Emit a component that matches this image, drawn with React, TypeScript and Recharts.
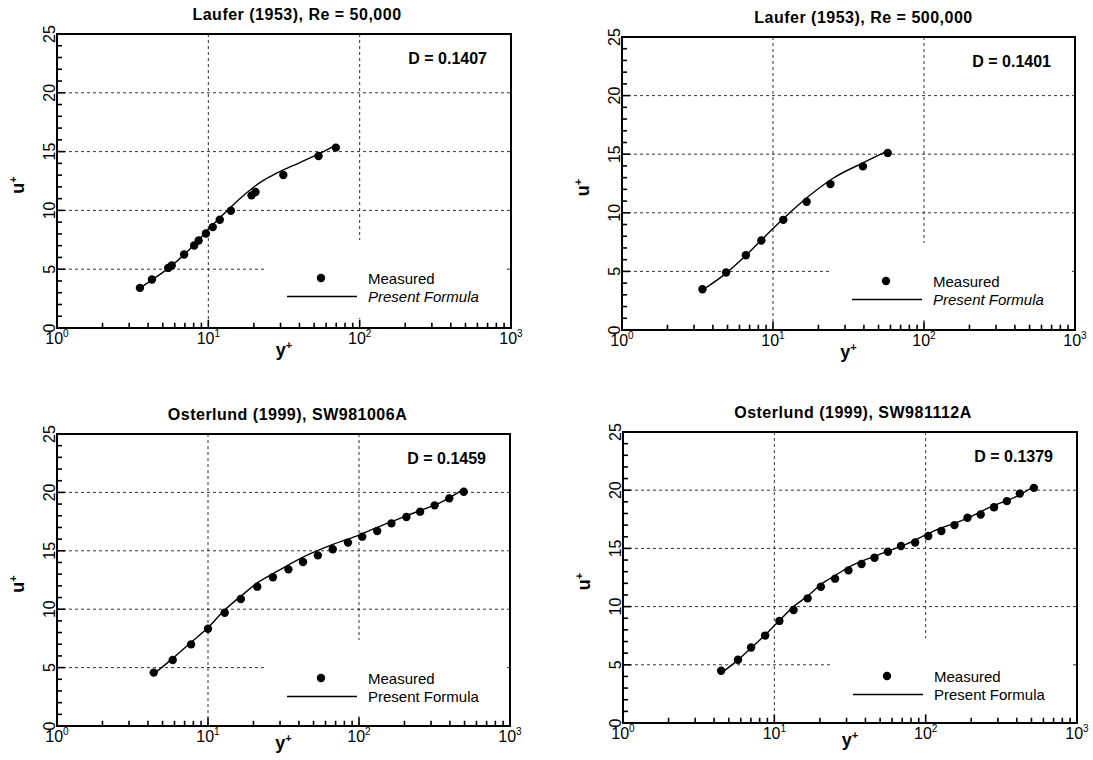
import React from 'react';
import { ComposedChart, Line, Scatter, XAxis, YAxis, CartesianGrid, Legend, ReferenceLine } from 'recharts';

const FONT = '"Liberation Sans", Arial, Helvetica, sans-serif';

// axis ticks, log x axis
const X_MAJOR = [1, 10, 100, 1000];
const X_MINOR = [2, 3, 4, 5, 6, 7, 8, 9, 20, 30, 40, 50, 60, 70, 80, 90, 200, 300, 400, 500, 600, 700, 800, 900];
const X_EXP = ['0', '1', '2', '3'];
const Y_MAJOR = [0, 5, 10, 15, 20, 25];
const Y_MINOR = [1, 2, 3, 4, 6, 7, 8, 9, 11, 12, 13, 14, 16, 17, 18, 19, 21, 22, 23, 24];
const GRID_U = [5, 10, 15, 20];
const GRID_Y = [10, 100];

// Laufer (1953), Re = 50,000
const laufer50Y = [3.53, 4.24, 5.43, 5.73, 6.92, 8.06, 8.63, 9.64, 10.7, 11.9, 14.1, 19.3, 20.5, 31.3, 53.5, 69.6];
const laufer50U = [3.41, 4.12, 5.11, 5.31, 6.25, 7.02, 7.44, 8.04, 8.58, 9.2, 9.97, 11.28, 11.56, 13.01, 14.63, 15.34];
const laufer50FitY = [3.6, 4.2, 5.4, 7, 8.5, 10, 12, 14, 17, 20.5, 25, 31.3, 40, 53.5, 70.7];
const laufer50FitU = [3.47, 4.05, 5.05, 6.3, 7.4, 8.4, 9.4, 10.25, 11.25, 12.1, 12.8, 13.45, 14.05, 14.8, 15.6];

// Laufer (1953), Re = 500,000
const laufer500Y = [3.41, 4.89, 6.61, 8.37, 11.7, 16.7, 24.0, 39.4, 57.5];
const laufer500U = [3.48, 4.9, 6.38, 7.64, 9.4, 10.94, 12.45, 13.96, 15.1];
const laufer500FitY = [3.5, 4.9, 6.6, 8.4, 11.7, 17, 25, 40, 58];
const laufer500FitU = [3.5, 4.85, 6.35, 7.7, 9.5, 11.35, 12.95, 14.3, 15.3];

// Osterlund (1999), SW981006A
const ost1006Y = [4.37, 5.84, 7.73, 10.0, 12.9, 16.5, 21.2, 26.9, 34.1, 42.6, 53.4, 67.0, 84.5, 105, 132, 164, 206, 254, 317, 396, 494];
const ost1006U = [4.57, 5.65, 6.99, 8.33, 9.7, 10.87, 11.93, 12.73, 13.41, 14.04, 14.61, 15.13, 15.7, 16.21, 16.7, 17.35, 17.89, 18.35, 18.89, 19.49, 20.06];
const ost1006FitY = [4.37, 5.84, 7.6, 9.89, 12.9, 16.8, 21.8, 28.4, 43.3, 65.9, 100, 153, 233, 356, 501];
const ost1006FitU = [4.45, 5.79, 7.08, 8.36, 9.93, 11.2, 12.36, 13.21, 14.5, 15.5, 16.35, 17.35, 18.26, 19.2, 20.35];

// Osterlund (1999), SW981112A
const ost1112Y = [4.45, 5.75, 7.02, 8.7, 10.8, 13.4, 16.6, 20.3, 25.2, 30.9, 37.7, 45.9, 56.3, 68.7, 85.2, 104, 127, 155, 189, 231, 283, 344, 419, 519];
const ost1112U = [4.49, 5.43, 6.49, 7.51, 8.77, 9.71, 10.71, 11.71, 12.4, 13.11, 13.66, 14.2, 14.71, 15.2, 15.51, 16.06, 16.49, 17.0, 17.63, 17.91, 18.54, 19.06, 19.71, 20.2];
const ost1112FitY = [4.45, 5.66, 7.02, 8.7, 10.8, 13.4, 16.6, 20.5, 25.5, 31.5, 48.4, 74.5, 114, 176, 270, 415, 520];
const ost1112FitU = [4.29, 5.34, 6.43, 7.57, 8.8, 10.0, 10.91, 11.94, 12.71, 13.43, 14.43, 15.37, 16.51, 17.43, 18.57, 19.57, 20.34];

const zip = (ys: number[], us: number[]) => ys.map((yp, i) => ({ yp, up: us[i] }));

// inward tick lengths, in axis units (u+ for x ticks, factor of y+ for y ticks)
const X_TICK_LEN = { major: 0.7, minor: 0.45 };
const Y_TICK_LEN = { major: 1.13, minor: 1.08 };

interface PanelProps {
  title: string;
  dLabel: string;
  measured: { yp: number; up: number }[];
  formula: { yp: number; up: number }[];
  italic: boolean;
  left: number;
  top: number;
  width: number;
  height: number;
  plot: { top: number; right: number; bottom: number; left: number }; // distances of the plot frame from the panel edges
  titleDx: number;
  xLabelDy: number;
}

const Panel: React.FC<PanelProps> = ({ title, dLabel, measured, formula, italic, left, top, width, height, plot, titleDx, xLabelDy }) => {
  const l = plot.left;
  const t = plot.top;
  const w = width - plot.left - plot.right;
  const h = height - plot.top - plot.bottom;
  const boxW = w - 6 - 210;
  const boxH = h - 10 - 206;
  // 1px axes, recharts skips axes of size 0
  const margin = { top: plot.top, right: plot.right, left: plot.left - 1, bottom: plot.bottom - 1 };

  const xTick = (p: any) => {
    const idx = X_MAJOR.indexOf(p.payload.value);
    const x = p.payload.coordinate;
    return (
      <text x={x} y={t + h + 16} textAnchor="middle" fontSize={16} fontFamily={FONT} fill="#000">
        10<tspan dy={-7} fontSize={10}>{X_EXP[idx]}</tspan>
      </text>
    );
  };

  const yTick = (p: any) => {
    const y = p.payload.coordinate;
    const x = l - 2;
    return (
      <text x={x} y={y} transform={`rotate(-90, ${x}, ${y})`} textAnchor="middle" fontSize={16} fontFamily={FONT} fill="#000">
        {p.payload.value}
      </text>
    );
  };

  const legendContent = () => (
    <svg width={boxW} height={boxH} style={{ display: 'block' }}>
      <circle cx={54} cy={38} r={4.2} fill="#000" />
      <text x={101} y={43.5} fontSize={15} fontFamily={FONT} fill="#000">Measured</text>
      <line x1={20} x2={90} y1={56.5} y2={56.5} stroke="#000" strokeWidth={1.4} />
      <text x={101} y={62} fontSize={15} fontFamily={FONT} fontStyle={italic ? 'italic' : 'normal'} fill="#000">Present Formula</text>
    </svg>
  );

  const xMarks = [...X_MAJOR.map((v) => [v, X_TICK_LEN.major]), ...X_MINOR.map((v) => [v, X_TICK_LEN.minor])];
  const yMarks = [...Y_MAJOR.map((v) => [v, Y_TICK_LEN.major]), ...Y_MINOR.map((v) => [v, Y_TICK_LEN.minor])];

  return (
    <div style={{ position: 'absolute', left, top, width, height }}>
      <ComposedChart width={width} height={height} margin={margin}>
        <CartesianGrid horizontalValues={GRID_U} verticalValues={GRID_Y} stroke="#333" strokeDasharray="3 3" strokeWidth={1} />
        <XAxis dataKey="yp" type="number" scale="log" domain={[1, 1000]} allowDataOverflow ticks={X_MAJOR}
          interval={0} height={1} tickSize={0} tickMargin={0} tickLine={false} axisLine={false} tick={xTick} />
        <YAxis dataKey="up" type="number" domain={[0, 25]} allowDataOverflow ticks={Y_MAJOR}
          interval={0} width={1} tickSize={0} tickMargin={0} tickLine={false} axisLine={false} tick={yTick} />
        <rect x={l} y={t} width={w} height={h} fill="none" stroke="#000" strokeWidth={2} />
        {xMarks.map(([v, len]) => (
          <ReferenceLine key={`xt-${v}`} segment={[{ x: v, y: 0 }, { x: v, y: len }]} ifOverflow="visible"
            stroke="#000" strokeWidth={1.6} />
        ))}
        {yMarks.map(([v, len]) => (
          <ReferenceLine key={`yt-${v}`} segment={[{ x: 1, y: v }, { x: len, y: v }]} ifOverflow="visible"
            stroke="#000" strokeWidth={1.6} />
        ))}
        <Line data={formula} dataKey="up" type="monotone" stroke="#000" strokeWidth={1.4} dot={false}
          isAnimationActive={false} />
        <Scatter data={measured} dataKey="up" fill="#000" isAnimationActive={false}
          shape={(p: any) => <circle cx={p.cx} cy={p.cy} r={4.2} fill="#000" />} />
        <Legend layout="horizontal" verticalAlign="middle" align="center" content={legendContent}
          wrapperStyle={{ position: 'absolute', left: l + 210, top: t + 206, width: boxW, height: boxH, background: '#fff' }} />
        <text x={l + w / 2 + titleDx} y={t - 14} textAnchor="middle" fontSize={16} fontWeight="bold"
          letterSpacing={0.5} fontFamily={FONT} fill="#000">{title}</text>
        <text x={l + w - 24} y={t + 30} textAnchor="end" fontSize={16} fontWeight="bold" fontFamily={FONT} fill="#000">{dLabel}</text>
        <text x={l - 33} y={t + h / 2 + 4} transform={`rotate(-90, ${l - 33}, ${t + h / 2 + 4})`} textAnchor="middle"
          fontSize={18} fontWeight="bold" fontFamily={FONT} fill="#000">
          u<tspan dy={-7} fontSize={11}>+</tspan>
        </text>
        <text x={l + w / 2} y={t + h + xLabelDy} textAnchor="middle" fontSize={18} fontWeight="bold" fontFamily={FONT} fill="#000">
          y<tspan dy={-7} fontSize={11}>+</tspan>
        </text>
      </ComposedChart>
    </div>
  );
}

export default function App() {
  return (
    <div style={{ position: 'absolute', left: 0, top: 0, width: 1093, height: 760, background: '#fff', fontFamily: FONT }}>
      <Panel title="Laufer (1953), Re = 50,000" dLabel="D = 0.1407"
        measured={zip(laufer50Y, laufer50U)} formula={zip(laufer50FitY, laufer50FitU)} italic
        left={0} top={0} width={546} height={380} plot={{ top: 34, left: 57, right: 35, bottom: 52 }}
        titleDx={13} xLabelDy={28} />
      <Panel title="Laufer (1953), Re = 500,000" dLabel="D = 0.1401"
        measured={zip(laufer500Y, laufer500U)} formula={zip(laufer500FitY, laufer500FitU)} italic
        left={546} top={0} width={547} height={380} plot={{ top: 37, left: 76, right: 18, bottom: 50 }}
        titleDx={15} xLabelDy={28} />
      <Panel title="Osterlund (1999), SW981006A" dLabel="D = 0.1459"
        measured={zip(ost1006Y, ost1006U)} formula={zip(ost1006FitY, ost1006FitU)} italic={false}
        left={0} top={380} width={546} height={380} plot={{ top: 54, left: 57, right: 36, bottom: 34 }}
        titleDx={4} xLabelDy={23} />
      <Panel title="Osterlund (1999), SW981112A" dLabel="D = 0.1379"
        measured={zip(ost1112Y, ost1112U)} formula={zip(ost1112FitY, ost1112FitU)} italic={false}
        left={546} top={380} width={547} height={380} plot={{ top: 52, left: 77, right: 16, bottom: 37 }}
        titleDx={3} xLabelDy={23} />
    </div>
  );
}
